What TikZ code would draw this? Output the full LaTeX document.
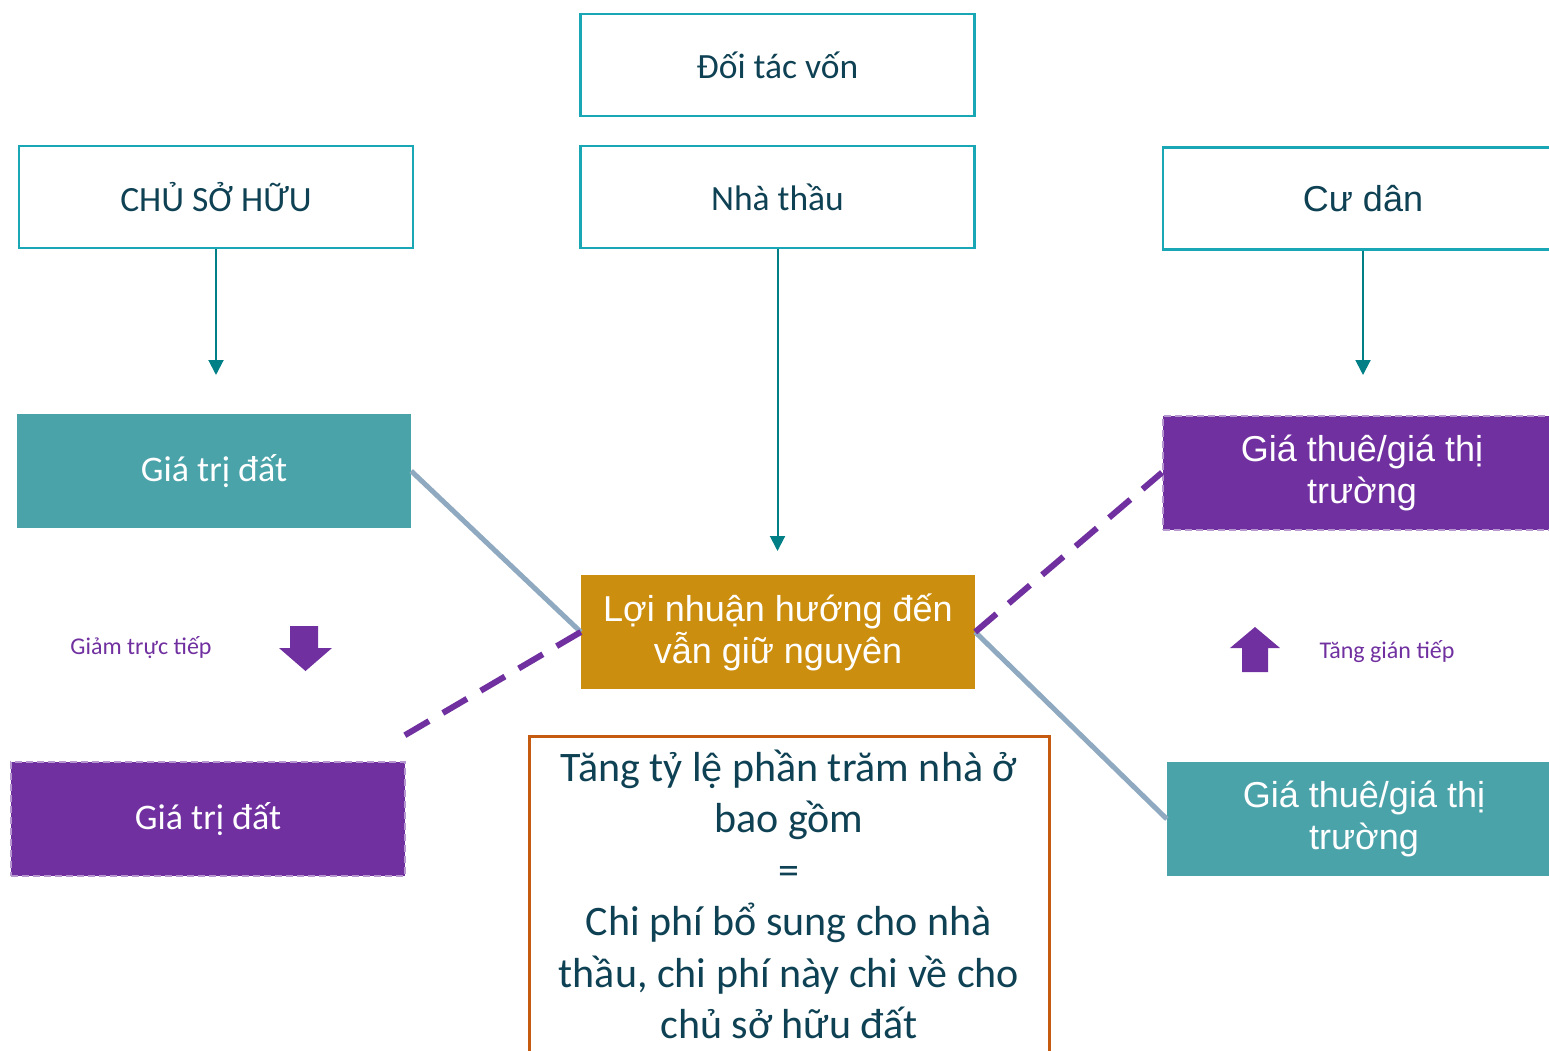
\documentclass[tikz,border=0pt]{standalone}
\usepackage{fontspec}
\setmainfont{Carlito}
\newfontfamily\arialfont{Liberation Sans}
\usetikzlibrary{arrows.meta}

\definecolor{boxline}{HTML}{19A7B6}
\definecolor{darktext}{HTML}{0E4153}
\definecolor{arrowteal}{HTML}{007F86}
\definecolor{tealfill}{HTML}{4BA3AA}
\definecolor{purp}{HTML}{7030A0}
\definecolor{gold}{HTML}{CC8E0E}
\definecolor{grayline}{HTML}{8FAAC0}
\definecolor{orangeline}{HTML}{C55A11}

\tikzset{
  topbox/.style={draw=boxline, line width=2.5pt, minimum width=394pt, minimum height=102pt,
    text=darktext, font=\fontsize{35.5}{42}\selectfont},
  tealbox/.style={fill=tealfill, minimum width=394pt, minimum height=114pt, text=white,
    align=center},
  purpbox/.style={fill=purp, draw=white!50!purp, line width=2pt, dash pattern=on 7pt off 4pt,
    minimum width=394pt, minimum height=114pt, text=white, align=center},
  downarrow/.style={draw=arrowteal, line width=2pt, -{Triangle[width=15pt,length=15pt]}},
  linkline/.style={draw=grayline, line width=5pt},
  linkdash/.style={draw=purp, line width=6pt, dash pattern=on 28pt off 16pt},
  smalllabel/.style={text=purp, font=\fontsize{24}{28}\selectfont}
}

\begin{document}
\begin{tikzpicture}[x=1pt, y=-1pt]
  \useasboundingbox (0,0) rectangle (1549,1051);
  % top row
  \node[topbox] (doitac) at (777.5,65) {Đối tác vốn};
  \node[topbox] (nhathau) at (777.5,197) {Nhà thầu};
  \node[topbox] (chusohuu) at (216,197) {CHỦ SỞ HỮU};
  \node[topbox, minimum width=400pt, font=\arialfont\fontsize{36}{42}\selectfont] (cudan) at (1363,198.5) {Cư dân\hspace{6pt}};
  % arrow ends
  \coordinate (chuEnd) at (216,375);
  \coordinate (thauEnd) at (777.5,551);
  \coordinate (danEnd) at (1363,375);
  \draw[downarrow] (chusohuu.south) -- (chuEnd);
  \draw[downarrow] (nhathau.south) -- (thauEnd);
  \draw[downarrow] (cudan.south) -- (danEnd);
  % middle boxes
  \node[tealbox, font=\fontsize{36}{40}\selectfont] (giatriA) at (214,471) {Giá trị đất};
  \node[purpbox, minimum width=398pt, font=\arialfont\fontsize{36}{42}\selectfont] (giathueA) at (1362,472.5) {Giá thuê/giá thị\\trường};
  \node[fill=gold, minimum width=394pt, minimum height=114pt, text=white, align=center,
    font=\arialfont\fontsize{36}{42}\selectfont] (loinhuan) at (778,632) {Lợi nhuận hướng đến\\vẫn giữ nguyên};
  \node[purpbox, font=\fontsize{36}{40}\selectfont] (giatriB) at (208,819) {Giá trị đất};
  \node[tealbox, font=\arialfont\fontsize{36}{42}\selectfont] (giathueB) at (1364,819) {Giá thuê/giá thị\\trường};
  % bottom note
  \node[draw=orangeline, line width=3pt, anchor=north, minimum width=520pt, minimum height=330pt] (note) at (789,735) {};
  \node[text=darktext, align=center, font=\fontsize{42}{51.5}\selectfont] (notetext) at ([yshift=7pt]note.center)
    {Tăng tỷ lệ phần trăm nhà ở\\bao gồm\\=\\Chi phí bổ sung cho nhà\\thầu, chi phí này chi về cho\\chủ sở hữu đất};
  % links
  \coordinate (dashEnd) at (395,741);
  \draw[linkline] (giatriA.east) -- (loinhuan.west);
  \draw[linkline] (loinhuan.east) -- (giathueB.west);
  \draw[linkdash] (loinhuan.west) -- (dashEnd);
  \draw[linkdash] (loinhuan.east) -- (giathueA.west);
  % change labels
  \node[smalllabel] (giam) at (141,648) {Giảm trực tiếp};
  \node[smalllabel] (tang) at (1387,652) {Tăng gián tiếp};
  \fill[purp] (290,626) -- (318,626) -- (318,648) -- (332,648) -- (305.5,671) -- (279,648) -- (290,648) -- cycle;
  \fill[purp] (1255,627) -- (1280,648) -- (1268,648) -- (1268,672) -- (1242,672) -- (1242,648) -- (1230,648) -- cycle;
\end{tikzpicture}
\end{document}
